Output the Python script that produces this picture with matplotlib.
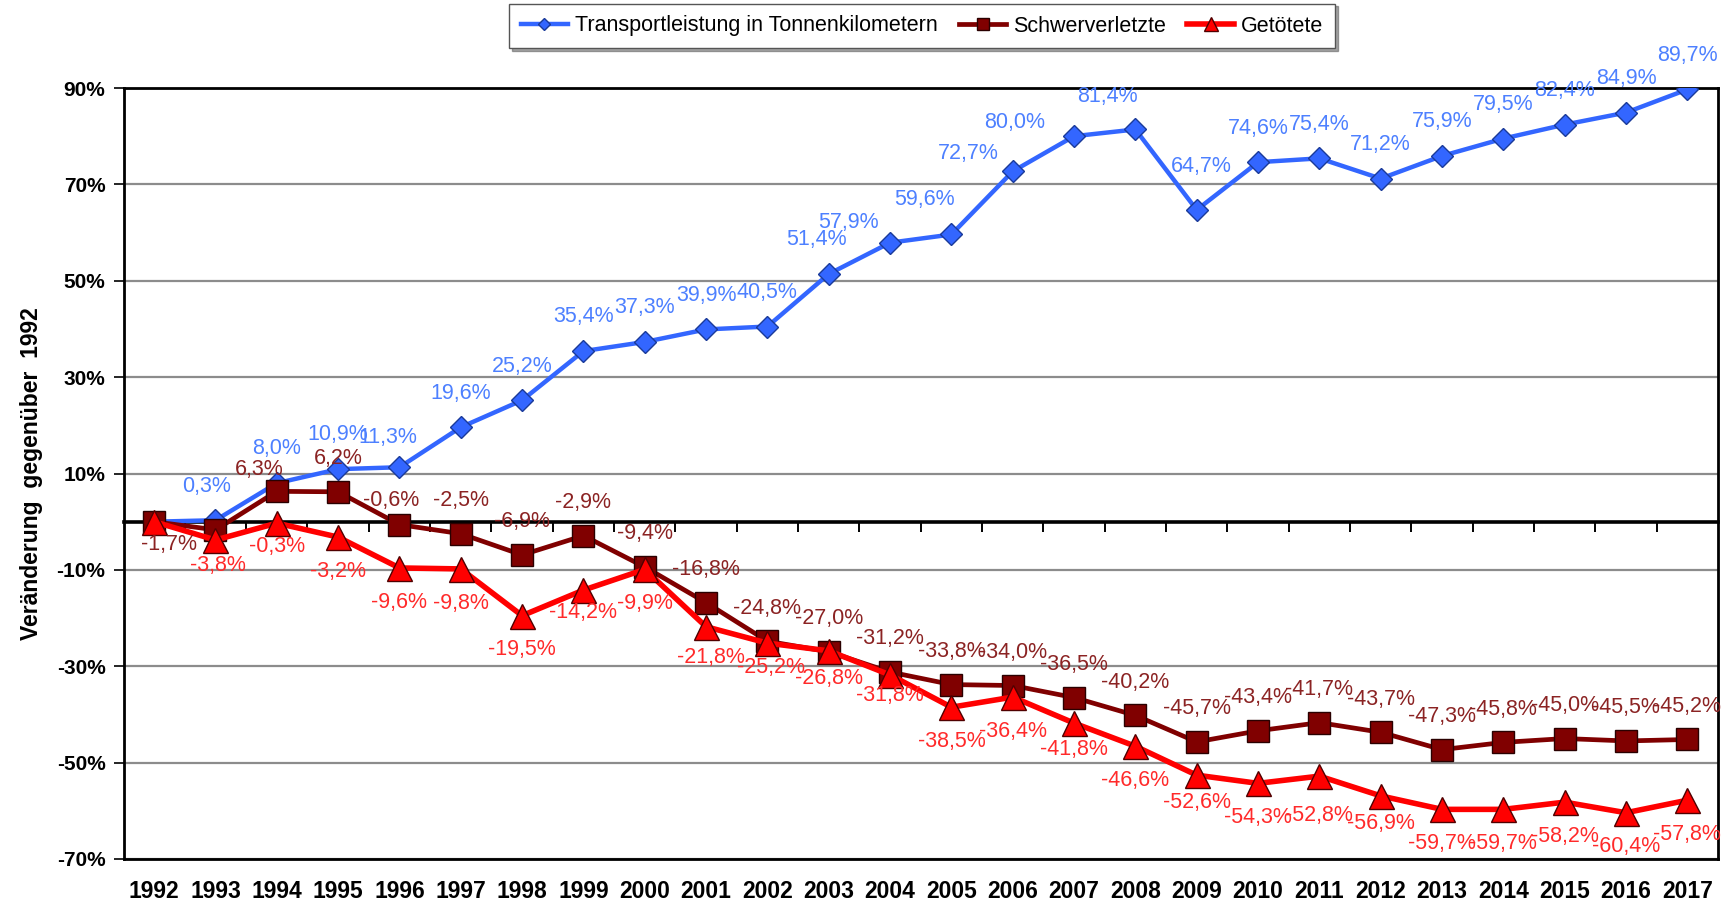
import matplotlib
matplotlib.use("Agg")
import matplotlib.pyplot as plt
from matplotlib.ticker import FixedLocator, FuncFormatter

plt.rcParams['font.family'] = ['Liberation Sans', 'DejaVu Sans']

# ---------------- data ----------------
years = list(range(1992, 2018))
transport = [0.0, 0.3, 8.0, 10.9, 11.3, 19.6, 25.2, 35.4, 37.3, 39.9, 40.5, 51.4, 57.9,
             59.6, 72.7, 80.0, 81.4, 64.7, 74.6, 75.4, 71.2, 75.9, 79.5, 82.4, 84.9, 89.7]
schwer = [0.0, -1.7, 6.3, 6.2, -0.6, -2.5, -6.9, -2.9, -9.4, -16.8, -24.8, -27.0, -31.2,
          -33.8, -34.0, -36.5, -40.2, -45.7, -43.4, -41.7, -43.7, -47.3, -45.8, -45.0, -45.5, -45.2]
getoetet = [0.0, -3.8, -0.3, -3.2, -9.6, -9.8, -19.5, -14.2, -9.9, -21.8, -25.2, -26.8, -31.8,
            -38.5, -36.4, -41.8, -46.6, -52.6, -54.3, -52.8, -56.9, -59.7, -59.7, -58.2, -60.4, -57.8]
series_names = ["Transportleistung in Tonnenkilometern", "Schwerverletzte", "Getötete"]
yticks = [90, 70, 50, 30, 10, -10, -30, -50, -70]
ylabel = "Veränderung  gegenüber  1992"

# ---------------- styling ----------------
S = 1729 / 1568.0  # shown->full pixel factor
blue, blue_lbl = "#3366FF", "#4D80FF"
dred, dred_lbl = "#800000", "#8B2323"
red, red_lbl = "#FF0000", "#FF2A2A"

fig = plt.figure(figsize=(17.29, 9.01), dpi=100)
ax = fig.add_axes([123.5 / 1729, 1 - 859 / 901, (1718 - 123.5) / 1729, (859 - 88) / 901])

x = list(range(len(years)))
ax.set_xlim(-0.5, len(years) - 0.5)
ax.set_ylim(-70, 90)

ax.yaxis.set_major_locator(FixedLocator(yticks))
ax.yaxis.set_major_formatter(FuncFormatter(lambda v, p: f"{int(round(v))}%"))
ax.grid(axis='y', color='#8c8c8c', linewidth=1.6, zorder=0)
ax.tick_params(axis='y', length=7, width=1.2, labelsize=15, pad=6)
for lbl in ax.get_yticklabels():
    lbl.set_fontweight('bold')

ax.set_xticks(x)
ax.set_xticklabels([str(y) for y in years], fontweight='bold', fontsize=16.5)
ax.tick_params(axis='x', length=0, pad=15)

for sp in ax.spines.values():
    sp.set_linewidth(2.0)
    sp.set_color('black')

# zero line as a category axis with tick marks at category boundaries
sec = ax.secondary_xaxis(70 / 160)
sec.set_xticks([i + 0.5 for i in range(len(years) - 1)])
sec.set_xticklabels([])
sec.tick_params(axis='x', direction='out', length=7, width=1.4, color='black')
sec.spines['bottom'].set_linewidth(2.6)
sec.spines['bottom'].set_color('black')

ax.set_ylabel(ylabel, fontsize=16.5, fontweight='bold', labelpad=10)

# lines
ax.plot(x, transport, color=blue, lw=3.2, marker='D', ms=11, mfc=blue, mec='#1a3a99',
        mew=1.0, zorder=5, label=series_names[0])
ax.plot(x, schwer, color=dred, lw=3.4, marker='s', ms=16, mfc=dred, mec='#2a0000',
        mew=1.0, zorder=6, label=series_names[1])
ax.plot(x, getoetet, color=red, lw=4.0, marker='^', ms=18, mfc=red, mec='#500000',
        mew=1.0, zorder=7, label=series_names[2])

def fmt(v):
    return f"{v:.1f}%".replace('.', ',')

# label offsets in shown pixels (dx, dy; dy positive = downwards)
blue_adj = {1993: (-8, -31), 1996: (-11, -27), 2003: (-11, -31), 2004: (-38, -18),
            2005: (-24, -32), 2006: (-40, -16), 2007: (-54, -12), 2008: (-25, -30),
            2009: (4, -39)}
dred_adj = {1993: (-42, 13), 1994: (-16, -20), 1996: (-8, -22)}
red_adj = {1999: (0, 20), 2004: (0, 19), 1994: (0, 21), 1993: (2, 23), 2002: (3, 22),
           2001: (4, 28), 2003: (0, 25), 2007: (0, 24), 2009: (0, 25), 2012: (0, 25),
           2011: (0, 36)}

def add_labels(vals, col, default, adj):
    for i, (yr, v) in enumerate(zip(years, vals)):
        if yr == 1992:
            continue
        dx, dy = adj.get(yr, default)
        ax.annotate(fmt(v), (i, v), xytext=(dx * S, -dy * S), textcoords='offset pixels',
                    ha='center', va='center', fontsize=15.5, color=col,
                    annotation_clip=False, zorder=10)

add_labels(transport, blue_lbl, (0, -31), blue_adj)
add_labels(schwer, dred_lbl, (0, -30), dred_adj)
add_labels(getoetet, red_lbl, (0, 31), red_adj)

leg = fig.legend(loc='center', bbox_to_anchor=(922 / 1729, 1 - 26 / 901), ncol=3,
                 fontsize=15.5, frameon=True, fancybox=False, shadow=True,
                 edgecolor='#555555', handlelength=2.2, handletextpad=0.3,
                 columnspacing=1.0, borderpad=0.55, markerscale=0.55)
leg.get_frame().set_linewidth(1.0)

fig.savefig("out.png", dpi=100)
